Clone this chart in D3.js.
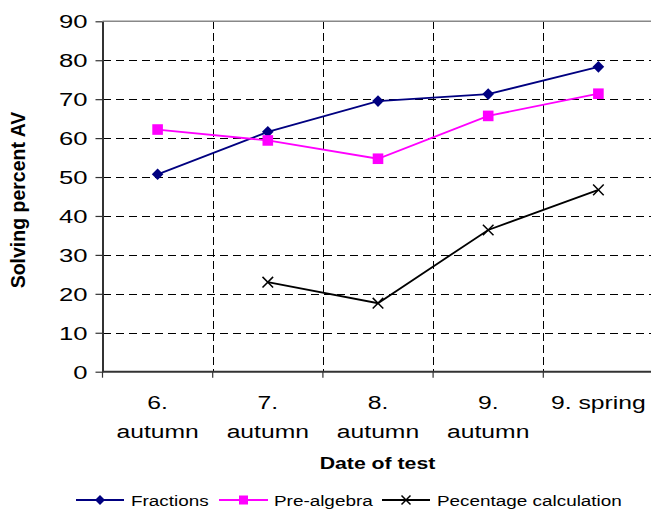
<!DOCTYPE html>
<html><head><meta charset="utf-8">
<script src="https://cdn.jsdelivr.net/npm/d3@7"></script>
<style>
html,body{margin:0;padding:0;background:#fff;}
svg{display:block;font-family:Arial,"Liberation Sans",sans-serif;}
</style></head>
<body>
<svg id="chart" width="651" height="510"></svg>
<script>
const categories = ["6.|autumn", "7.|autumn", "8.|autumn", "9.|autumn", "9. spring"];
const fractions = [50.7, 61.6, 69.5, 71.3, 78.3];
const preAlgebra = [62.2, 59.4, 54.7, 65.7, 71.4];
const percentage = [null, 23.0, 17.6, 36.4, 46.7];
const yTicks = [0, 10, 20, 30, 40, 50, 60, 70, 80, 90];
const seriesNames = ["Fractions", "Pre-algebra", "Pecentage calculation"];

(function() {
const svg = d3.select("#chart");
const pLeft = 102.5, pRight = 653.5, pTop = 21.3, pBottom = 371.7;
const x = d3.scaleBand().domain(categories).range([pLeft, pRight]).padding(0);
const y = d3.scaleLinear().domain([0, 90]).range([pBottom, pTop]);
const cx = d => x(d) + x.bandwidth() / 2;

// horizontal gridlines
svg.append("g").selectAll("line").data(yTicks.filter(t => t > 0 && t < 90)).join("line")
  .attr("x1", pLeft).attr("x2", pRight).attr("y1", d => Math.round(y(d)) + 0.5).attr("y2", d => Math.round(y(d)) + 0.5)
  .attr("stroke", "#000").attr("stroke-width", 1).attr("stroke-dasharray", "8,5")
  .attr("shape-rendering", "crispEdges");
// vertical gridlines at band boundaries
svg.append("g").selectAll("line").data(categories.slice(1)).join("line")
  .attr("x1", d => Math.round(x(d)) + 0.5).attr("x2", d => Math.round(x(d)) + 0.5)
  .attr("y1", pTop).attr("y2", pBottom)
  .attr("stroke", "#000").attr("stroke-width", 1).attr("stroke-dasharray", "8,4")
  .attr("shape-rendering", "crispEdges");
// top border
svg.append("line").attr("x1", pLeft).attr("x2", pRight).attr("y1", pTop).attr("y2", pTop)
  .attr("stroke", "#888").attr("stroke-width", 1.5);

// Y axis
const yAxis = svg.append("g").attr("transform", `translate(${pLeft},0)`)
  .call(d3.axisLeft(y).tickValues(yTicks).tickSize(7).tickSizeOuter(0));
yAxis.select(".domain").attr("stroke", "#333").attr("stroke-width", 2);
yAxis.selectAll(".tick line").attr("stroke", "#333").attr("stroke-width", 1.2);
yAxis.selectAll(".tick text")
  .attr("x", null).attr("dy", "0.35em")
  .attr("transform", "translate(-15,0) scale(1.35,1)")
  .attr("font-size", 19).attr("font-family", "Arial, Liberation Sans").attr("fill", "#000");

// X axis (ticks at band boundaries)
svg.append("line").attr("x1", pLeft).attr("x2", pRight).attr("y1", pBottom).attr("y2", pBottom)
  .attr("stroke", "#333").attr("stroke-width", 2);
const bounds = categories.map(c => x(c)).concat([pRight]);
svg.append("g").selectAll("line").data(bounds).join("line")
  .attr("x1", d => d).attr("x2", d => d).attr("y1", pBottom).attr("y2", pBottom + 6)
  .attr("stroke", "#333").attr("stroke-width", 1.2);

// X labels
const xl = svg.append("g").selectAll("g").data(categories).join("g")
  .attr("transform", d => `translate(${cx(d)},0)`);
xl.each(function(d) {
  const lines = d.split("|");
  const g = d3.select(this);
  lines.forEach((ln, i) => {
    g.append("text").text(ln)
      .attr("text-anchor", "middle")
      .attr("font-size", 19).attr("fill", "#000")
      .attr("transform", `translate(0,${409 + i * 29}) scale(1.3,1)`);
  });
});

// axis titles
svg.append("text").text("Date of test")
  .attr("text-anchor", "middle").attr("font-weight", "bold").attr("font-size", 17)
  .attr("transform", "translate(377.5,469) scale(1.25,1)");
svg.append("text").text("Solving percent AV")
  .attr("text-anchor", "middle").attr("font-weight", "bold").attr("font-size", 19.5)
  .attr("transform", "translate(25,200) rotate(-90)");

// series
const colors = ["#000080", "#FF00FF", "#000000"];
const datasets = [fractions, preAlgebra, percentage];
const line = d3.line().defined(d => d.v != null).x(d => cx(d.c)).y(d => y(d.v));

function marker(g, type, px, py, s, color) {
  if (type === 0) {
    g.append("path").attr("d", `M${px},${py - s}L${px + s},${py}L${px},${py + s}L${px - s},${py}Z`)
      .attr("fill", color);
  } else if (type === 1) {
    g.append("rect").attr("x", px - s).attr("y", py - s).attr("width", 2 * s).attr("height", 2 * s)
      .attr("fill", color);
  } else {
    g.append("path").attr("d", `M${px - s},${py - s}L${px + s},${py + s}M${px - s},${py + s}L${px + s},${py - s}`)
      .attr("stroke", color).attr("stroke-width", 1.5).attr("fill", "none");
  }
}

datasets.forEach((vals, si) => {
  const pts = categories.map((c, i) => ({c, v: vals[i]}));
  svg.append("path").datum(pts).attr("d", line)
    .attr("fill", "none").attr("stroke", colors[si]).attr("stroke-width", 1.8);
  const g = svg.append("g");
  pts.filter(p => p.v != null).forEach(p => {
    marker(g, si, cx(p.c), y(p.v), si === 0 ? 5.8 : 5.3, colors[si]);
  });
});

// legend
const legendX = [[76, 124, 131], [219, 268, 274], [382, 430, 437]];
const ly = 500;
seriesNames.forEach((name, i) => {
  const [x1, x2, tx] = legendX[i];
  const g = svg.append("g");
  g.append("line").attr("x1", x1).attr("x2", x2).attr("y1", ly).attr("y2", ly)
    .attr("stroke", colors[i]).attr("stroke-width", 1.8);
  marker(g, i, (x1 + x2) / 2, ly, i === 0 ? 5 : 4.5, colors[i]);
  g.append("text").text(name).attr("font-size", 15.5).attr("fill", "#000")
    .attr("transform", `translate(${tx},${ly + 5.5}) scale(1.22,1)`);
});
})();
</script>
</body></html>
